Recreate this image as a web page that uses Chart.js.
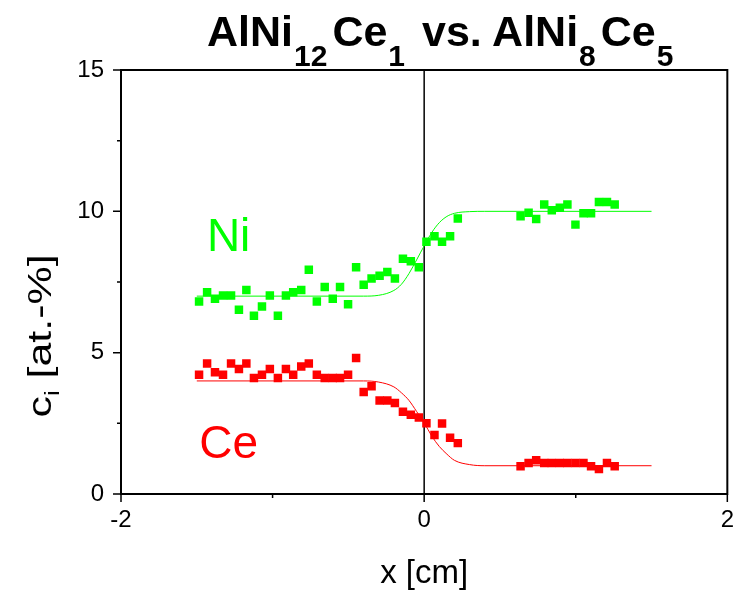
<!doctype html>
<html>
<head>
    <meta charset="UTF-8"/>
    <title>AlNi12Ce1 vs. AlNi8Ce5</title>
    <style type="text/css">
        body {
            margin: 0;
            background-color: #fff;
            font-family: 'Liberation Sans', Arial, sans-serif;
        }
        .wrap {
            position: relative;
            width: 746px;
            height: 594px;
        }
        .title {
            position: absolute;
            left: 207px;
            top: 10px;
            font-size: 43px;
            line-height: 42px;
            font-weight: bold;
            white-space: nowrap;
        }
        .title sub {
            font-size: 30px;
            line-height: 0;
            vertical-align: -20px;
            margin-left: 1px;
            margin-right: 5px;
        }
        .ylabel {
            position: absolute;
            left: -60px;
            top: 316px;
            width: 200px;
            height: 40px;
            line-height: 40px;
            text-align: center;
            font-size: 33px;
            white-space: nowrap;
            transform: rotate(-90deg) scaleX(1.3);
        }
        .ylabel sub {
            font-size: 20px;
            line-height: 0;
            vertical-align: -8px;
        }
    </style>
</head>
<body>
<div class="wrap">
    <canvas id="myChart" width="746" height="594"></canvas>
    <div class="title">AlNi<sub>12</sub>Ce<sub>1</sub> vs. AlNi<sub>8</sub>Ce<sub>5</sub></div>
    <div class="ylabel">c<sub>i</sub> [at.-%]</div>
</div>

<script src="https://cdn.jsdelivr.net/npm/chart.js"></script>
<script>
    // measured positions (cm), shared by both elements
    const xPos = [-1.485, -1.432, -1.380, -1.327, -1.274, -1.222, -1.173, -1.123, -1.070, -1.018,
        -0.965, -0.912, -0.864, -0.811, -0.761, -0.708, -0.656, -0.603, -0.555, -0.502,
        -0.449, -0.399, -0.347, -0.294, -0.243, -0.193, -0.140, -0.088, -0.035,
        0.015, 0.068, 0.118, 0.171, 0.222,
        0.636, 0.689, 0.739, 0.792, 0.842, 0.895, 0.945, 0.998, 1.051, 1.101, 1.153, 1.206, 1.257];

    const niData = [6.81, 7.14, 6.91, 7.02, 7.02, 6.52, 7.22, 6.31, 6.63, 7.02,
        6.31, 7.02, 7.14, 7.22, 7.93, 6.81, 7.32, 6.91, 7.32, 6.71,
        8.02, 7.40, 7.62, 7.72, 7.85, 7.62, 8.32, 8.23, 8.02,
        8.92, 9.12, 8.92, 9.12, 9.75,
        9.83, 9.95, 9.73, 10.24, 10.04, 10.13, 10.24, 9.53, 9.93, 9.93, 10.33, 10.33, 10.24];

    const ceData = [4.22, 4.62, 4.31, 4.22, 4.62, 4.42, 4.62, 4.10, 4.22, 4.42,
        4.10, 4.42, 4.22, 4.51, 4.62, 4.22, 4.10, 4.10, 4.10, 4.22,
        4.81, 3.61, 3.81, 3.31, 3.31, 3.22, 2.91, 2.80, 2.71,
        2.50, 2.09, 2.49, 1.99, 1.80,
        0.98, 1.10, 1.19, 1.10, 1.10, 1.10, 1.10, 1.10, 1.10, 0.98, 0.88, 1.10, 0.98];

    // fitted profiles
    const fitX = [-1.5, -0.4, -0.3, -0.2, -0.15, -0.1, -0.05, 0, 0.05, 0.1, 0.15, 0.2, 0.3, 0.4, 1.5];
    const niFit = [7.0, 7.0, 7.03, 7.2, 7.42, 7.8, 8.28, 8.78, 9.25, 9.6, 9.82, 9.93, 9.99, 10.0, 10.0];
    const ceFit = [4.0, 4.0, 3.96, 3.79, 3.58, 3.31, 2.92, 2.52, 2.05, 1.68, 1.41, 1.19, 1.04, 1.0, 1.0];

    // interface line
    const interfaceX = [0, 0];
    const interfaceY = [0, 15];

    // element labels
    const labelText = ['Ni', 'Ce'];
    const labelX = [-1.29, -1.29];
    const labelY = [8.58, 1.28];

    const green = '#00ff00';
    const red = '#ff0000';

    const pts = (xs, ys) => xs.map((v, i) => ({x: v, y: ys[i]}));

    // box around plot, tick marks and element labels
    const frame = {
        id: 'frame',
        afterDraw(chart) {
            const {ctx, chartArea: a, scales: {x, y}} = chart;
            ctx.save();
            ctx.strokeStyle = '#000';
            ctx.lineWidth = 2;
            ctx.strokeRect(a.left, a.top, a.right - a.left, a.bottom - a.top);
            ctx.lineWidth = 1.5;
            ctx.beginPath();
            y.ticks.forEach(t => {
                const p = y.getPixelForValue(t.value);
                const len = t.value % 5 === 0 ? 8 : 4;
                ctx.moveTo(a.left - len, p);
                ctx.lineTo(a.left, p);
            });
            x.ticks.forEach(t => {
                const p = x.getPixelForValue(t.value);
                const len = t.value % 2 === 0 ? 8 : 4;
                ctx.moveTo(p, a.bottom);
                ctx.lineTo(p, a.bottom + len);
            });
            ctx.stroke();

            ctx.font = '46px "Liberation Sans", Arial, sans-serif';
            ctx.textAlign = 'center';
            ctx.textBaseline = 'alphabetic';
            labelText.forEach((s, i) => {
                ctx.fillStyle = i === 0 ? green : red;
                ctx.fillText(s, x.getPixelForValue(labelX[i]), y.getPixelForValue(labelY[i]));
            });
            ctx.restore();
        }
    };

    const data = {
        datasets: [
            {
                label: 'Ni',
                data: pts(xPos, niData),
                pointStyle: 'rect',
                pointRadius: 6,
                pointBorderWidth: 0,
                backgroundColor: green,
                borderColor: green,
                showLine: false
            },
            {
                label: 'Ce',
                data: pts(xPos, ceData),
                pointStyle: 'rect',
                pointRadius: 6,
                pointBorderWidth: 0,
                backgroundColor: red,
                borderColor: red,
                showLine: false
            },
            {
                label: 'Ni fit',
                data: pts(fitX, niFit),
                showLine: true,
                pointRadius: 0,
                borderColor: green,
                borderWidth: 1,
                cubicInterpolationMode: 'monotone'
            },
            {
                label: 'Ce fit',
                data: pts(fitX, ceFit),
                showLine: true,
                pointRadius: 0,
                borderColor: red,
                borderWidth: 1,
                cubicInterpolationMode: 'monotone'
            },
            {
                label: 'interface',
                data: pts(interfaceX, interfaceY),
                showLine: true,
                pointRadius: 0,
                borderColor: '#000',
                borderWidth: 1.5
            }
        ]
    };

    const config = {
        type: 'scatter',
        data: data,
        options: {
            responsive: false,
            animation: false,
            layout: {
                padding: {top: 70, right: 17, left: 0, bottom: 0}
            },
            plugins: {
                legend: {display: false},
                tooltip: {enabled: false}
            },
            scales: {
                x: {
                    min: -2,
                    max: 2,
                    afterFit: s => { s.height = 100; },
                    grid: {display: false, drawTicks: false},
                    border: {display: false},
                    ticks: {
                        stepSize: 1,
                        padding: 12,
                        color: '#000',
                        font: {size: 24, family: '"Liberation Sans", Arial, sans-serif'},
                        callback: v => (v % 2 === 0 ? v : '')
                    },
                    title: {
                        display: true,
                        text: 'x [cm]',
                        color: '#000',
                        padding: 0,
                        font: {size: 33, family: '"Liberation Sans", Arial, sans-serif'}
                    }
                },
                y: {
                    min: 0,
                    max: 15,
                    afterFit: s => { s.width = 121; },
                    grid: {display: false, drawTicks: false},
                    border: {display: false},
                    ticks: {
                        stepSize: 2.5,
                        padding: 17,
                        color: '#000',
                        font: {size: 24, family: '"Liberation Sans", Arial, sans-serif'},
                        callback: v => (v % 5 === 0 ? v : '')
                    }
                }
            }
        },
        plugins: [frame]
    };

    const myChart = new Chart(
        document.getElementById('myChart'),
        config
    );
</script>
</body>
</html>
